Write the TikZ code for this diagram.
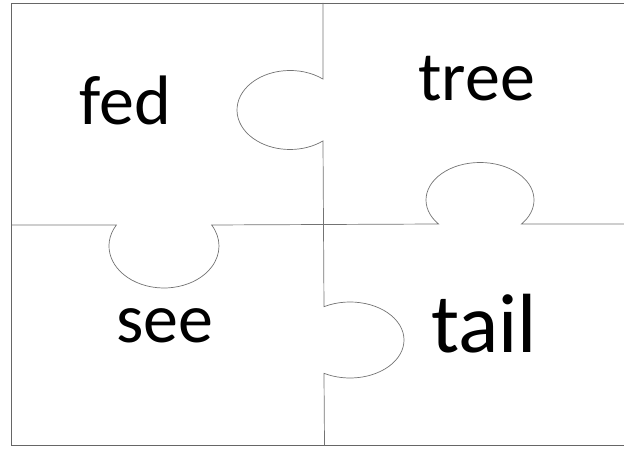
\documentclass[tikz,border=0pt]{standalone}
\usepackage{fontspec}
\setmainfont{Carlito}
\begin{document}
\begin{tikzpicture}[x=1bp, y=1bp,
  edge/.style={draw=black!60, line width=0.9bp},
  cut/.style={draw=black!55, line width=0.7bp},
  word/.style={anchor=base, inner sep=0pt, font=\fontsize{70bp}{80bp}\selectfont}]
\clip (0,0) rectangle (624,449);
% outer frame
\draw[edge] (11.5,3.5) rectangle (630,446);
% vertical cut with two tabs
\draw[cut] (323,446) -- ([shift={(290,339)}]51.5:53 and 39.5)
  arc[start angle=51.5, end angle=308.5, x radius=53, y radius=39.5]
  -- ([shift={(350,109)}]118.8:54 and 38)
  arc[start angle=118.8, end angle=-118.8, x radius=54, y radius=38]
  -- (324.5,3.5);
% horizontal cut with two tabs
\draw[cut] (11.5,224) -- ([shift={(164,203)}]150:55 and 42)
  arc[start angle=150, end angle=390, x radius=55, y radius=42]
  -- ([shift={(480,249)}]219.8:54 and 37.5)
  arc[start angle=219.8, end angle=-39.8, x radius=54, y radius=37.5]
  -- (630,225);
% words
\node[word] (fed) at (125.3,324) {fed};
\node[word] (tree) at (476.7,348) {tree};
\node[word] (see) at (165,106.3) {see};
\node[word, font=\fontsize{84bp}{96bp}\selectfont] (tail) at (484,96.3) {tail};
\end{tikzpicture}
\end{document}
